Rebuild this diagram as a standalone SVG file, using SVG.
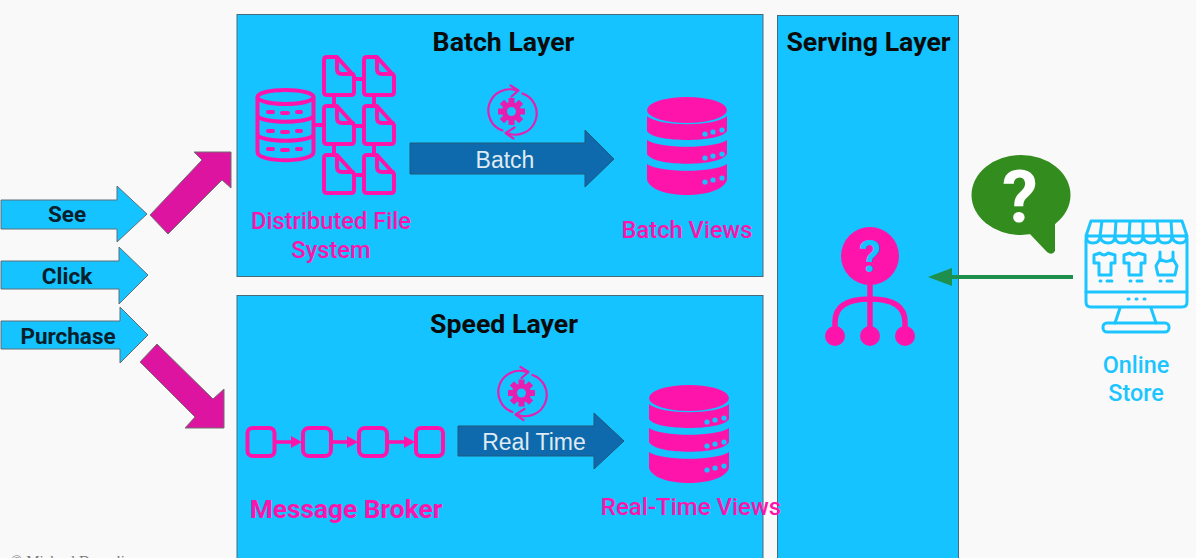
<svg xmlns="http://www.w3.org/2000/svg" width="1196" height="558" viewBox="0 0 1196 558">
<style>
text{font-family:Roboto,"Liberation Sans",sans-serif}
.panel{fill:#14c3ff;stroke:#4a6a7a;stroke-width:1}
.title{font-size:26.700px;font-weight:700;fill:#0b0b0b;text-anchor:middle}
.inlabel{font-size:22.500px;font-weight:700;fill:#08202c;text-anchor:middle}
.pink{font-size:23.700px;font-weight:500;fill:#ff14ab;text-anchor:middle}
.blue{fill:#14c3ff;stroke:#5f6f78;stroke-width:1}
.mag{fill:#dc14a0;stroke:#6f6f6f;stroke-width:1}
.dark{fill:#0e6aad;stroke:#1f5878;stroke-width:1}
.white{font-size:23px;fill:#dfeaf2;text-anchor:middle;font-family:"Liberation Sans",sans-serif}
.ol{fill:none;stroke:#ff14ab;stroke-width:4;stroke-linecap:round;stroke-linejoin:round}
.thin{fill:none;stroke:#e61fb0;stroke-width:2.200;stroke-linecap:round;stroke-linejoin:round}
.store{fill:none;stroke:#1cc5ff;stroke-width:3;stroke-linecap:round;stroke-linejoin:round}
</style>
<defs>
<symbol id="file" overflow="visible">
<path class="ol" d="M4,0H14L31,19V35Q31,38 28,38H4Q1,38 1,35V3Q1,0 4,0ZM14,1V12Q14,17 19,17H30"/>
</symbol>
<symbol id="soliddb" overflow="visible">
<ellipse cx="40" cy="13" rx="40" ry="13" fill="#ff14ab"/>
<path fill="#ff14ab" d="M0,19C12,30 68,30 80,19V34C74,46 6,46 0,34Z"/>
<path fill="#ff14ab" d="M0,43C12,52 68,52 80,43V57C74,70 6,70 0,57Z"/>
<path fill="#ff14ab" d="M0,67C12,76 68,76 80,67V83C74,103 6,103 0,83Z"/>
<g fill="#14c3ff"><circle cx="58" cy="37" r="2.600"/><circle cx="66" cy="35" r="2.600"/><circle cx="75" cy="33" r="2.600"/><circle cx="58" cy="61" r="2.600"/><circle cx="66" cy="59" r="2.600"/><circle cx="75" cy="57" r="2.600"/><circle cx="58" cy="85" r="2.600"/><circle cx="66" cy="83" r="2.600"/><circle cx="75" cy="81" r="2.600"/></g>
</symbol>
<symbol id="gear" overflow="visible">
<path class="thin" d="M-9,19A21,21 0 0 1 5,-21M-1,-26L7,-21L0,-15M11,-18A21,21 0 0 1 -3,22M3,16L-6,21.500L2,27"/>
<g fill="#e61fb0"><circle r="9.500"/><rect x="-3" y="-13.500" width="6" height="27"/><rect x="-3" y="-13.500" width="6" height="27" transform="rotate(45)"/><rect x="-3" y="-13.500" width="6" height="27" transform="rotate(90)"/><rect x="-3" y="-13.500" width="6" height="27" transform="rotate(135)"/></g>
<circle r="4.500" fill="#14c3ff"/>
</symbol>
<symbol id="shirt" overflow="visible">
<path class="store" d="M0,2L6,0Q10,4 14,0L21,2L21,10L17,10V22H5V10H0Z"/>
</symbol>
</defs>
<rect width="1196" height="558" fill="#f9f9f9"/>

<g id="watermark"><text x="11" y="566" font-size="15" fill="#777" style="font-family:'Liberation Serif',serif">© Michael Drogalis</text></g>

<g id="batch-layer">
<rect class="panel" x="237" y="14.500" width="526" height="262"/>
<text class="title" x="503.500" y="51">Batch Layer</text>
</g>
<g id="speed-layer">
<rect class="panel" x="237" y="295.500" width="526" height="270"/>
<text class="title" x="504" y="333">Speed Layer</text>
</g>
<g id="serving-layer">
<rect class="panel" x="777.500" y="15.500" width="181" height="550"/>
<text class="title" x="868.500" y="51">Serving Layer</text>
</g>

<g id="see"><path class="blue" d="M1,200H117V186L147,214L117,242V229H1Z"/><text class="inlabel" x="67" y="222">See</text></g>
<g id="click"><path class="blue" d="M1,261H119V247L148,275L119,304V289H1Z"/><text class="inlabel" x="67" y="284">Click</text></g>
<g id="purchase"><path class="blue" d="M1,321H120V307L148,335L120,363V349H1Z"/><text class="inlabel" x="68" y="344">Purchase</text></g>

<g id="connectors">
<path class="mag" d="M150,215L168,234L222,180L231,188V152H194L202,160Z"/>
<path class="mag" d="M140,362L157,344L213,399L224,389V428H185L195,417Z"/>
<path class="dark" d="M410,143H585V130L614,159L585,187V174H410Z"/>
<path class="dark" d="M458,426H594V413L624,441L594,469V456H458Z"/>
<path d="M1073,277H950" stroke="#1f8f4e" stroke-width="4" fill="none"/>
<path d="M928,277L952,268V286Z" fill="#1f8f4e"/>
</g>

<g id="batch-label"><text class="white" x="505" y="168">Batch</text></g>
<g id="realtime-label"><text class="white" x="534" y="450">Real Time</text></g>

<g id="distributed-file-system">
<ellipse class="ol" cx="285.500" cy="97" rx="28" ry="7"/>
<path class="ol" d="M257.500,97V152C257.500,163 313.500,163 313.500,152V97M257.500,115C257.500,124 313.500,124 313.500,115M257.500,134C257.500,143 313.500,143 313.500,134"/>
<path class="ol" d="M268,112H273M282,113H288M297,112H301M268,131H273M282,132H288M297,131H301M268,149H273M282,150H288M297,149H301"/>
<path class="ol" d="M314,125H323M354,79H363M354,126H363M354,175H363M334,95V105M374,95V105M334,144V154M374,144V154"/>
<use href="#file" x="323" y="57"/><use href="#file" x="363" y="57"/>
<use href="#file" x="323" y="106"/><use href="#file" x="363" y="106"/>
<use href="#file" x="323" y="155"/><use href="#file" x="363" y="155"/>
<text class="pink" x="331" y="229">Distributed File</text>
<text class="pink" x="331" y="258">System</text>
</g>

<g id="batch-process"><use href="#gear" x="511.500" y="111.500"/></g>
<g id="batch-views"><use href="#soliddb" x="647" y="97"/><text class="pink" x="687" y="238">Batch Views</text></g>

<g id="message-broker">
<g class="ol"><rect x="247.500" y="428" width="27" height="28" rx="5"/><rect x="303" y="428" width="28" height="28" rx="6"/><rect x="359" y="428" width="28" height="28" rx="6"/><rect x="416" y="428" width="27" height="28" rx="5"/></g>
<path d="M276,442H295" stroke="#ff14ab" stroke-width="3.600"/><path d="M291,436L302,442L291,448Z" fill="#ff14ab"/>
<path d="M332,442H351" stroke="#ff14ab" stroke-width="3.600"/><path d="M347,436L358,442L347,448Z" fill="#ff14ab"/>
<path d="M388,442H408" stroke="#ff14ab" stroke-width="3.600"/><path d="M404,436L415,442L404,448Z" fill="#ff14ab"/>
<text class="pink" x="346" y="518" style="font-size:26.300px;font-weight:700">Message Broker</text>
</g>

<g id="speed-process"><use href="#gear" x="521.500" y="393"/></g>
<g id="realtime-views"><use href="#soliddb" x="649" y="385"/><text class="pink" x="691" y="515" style="font-size:24px">Real-Time Views</text></g>

<g id="serving-query">
<circle cx="870" cy="256" r="29" fill="#ff14ab"/>
<text x="870" y="272" font-size="44" font-weight="700" fill="#14c3ff" text-anchor="middle">?</text>
<path d="M870,284V336M835,336V322Q835,299 870,299Q905,299 905,322V336" fill="none" stroke="#ff14ab" stroke-width="5.500"/>
<circle cx="835" cy="336" r="10" fill="#ff14ab"/><circle cx="870" cy="336" r="10" fill="#ff14ab"/><circle cx="905" cy="336" r="10" fill="#ff14ab"/>
</g>

<g id="question-bubble">
<ellipse cx="1021" cy="195" rx="49.500" ry="40" fill="#338c1e"/>
<path d="M1028,232L1047,252Q1052,256 1055,251V220Z" fill="#338c1e"/>
<text x="1020" y="222" font-size="72" font-weight="700" fill="#fff" text-anchor="middle">?</text>
</g>

<g id="online-store">
<path class="store" d="M1088,236Q1086,237 1086,240V302Q1086,307 1091,307H1182Q1187,307 1187,302V240Q1187,237 1185,236"/>
<path class="store" d="M1086,292H1187"/>
<path class="store" d="M1091,221H1182L1187,236Q1187,243 1180,243Q1173,243 1172,236Q1172,243 1165,243Q1158,243 1158,236Q1158,243 1151,243Q1144,243 1143,236Q1143,243 1136,243Q1129,243 1129,236Q1129,243 1122,243Q1115,243 1115,236Q1115,243 1108,243Q1101,243 1100,236Q1100,243 1093,243Q1086,243 1086,236ZM1102,221L1100,236M1116,221L1115,236M1130,221L1129,236M1143,221L1143,236M1157,221L1158,236M1171,221L1172,236M1086,236H1187"/>
<path class="store" d="M1120,308L1115,323M1151,308L1156,323"/>
<rect class="store" x="1103" y="323" width="66" height="9" rx="4"/>
<use href="#shirt" x="1094" y="253"/><use href="#shirt" x="1124" y="253"/>
<path class="store" d="M1160,252V259L1156,266L1158,275H1175L1177,266L1173,259V252M1160,259Q1166.500,264 1173,259"/>
<path class="store" d="M1100,281H1101M1107,281H1112M1130,281H1131M1137,281H1142M1160,281H1161M1167,281H1172M1128,299H1129M1136,299H1137M1144,299H1145"/>
<text x="1136" y="373" font-size="23.400" font-weight="500" fill="#1cc5ff" text-anchor="middle">Online</text>
<text x="1136" y="401" font-size="23.400" font-weight="500" fill="#1cc5ff" text-anchor="middle">Store</text>
</g>
</svg>
